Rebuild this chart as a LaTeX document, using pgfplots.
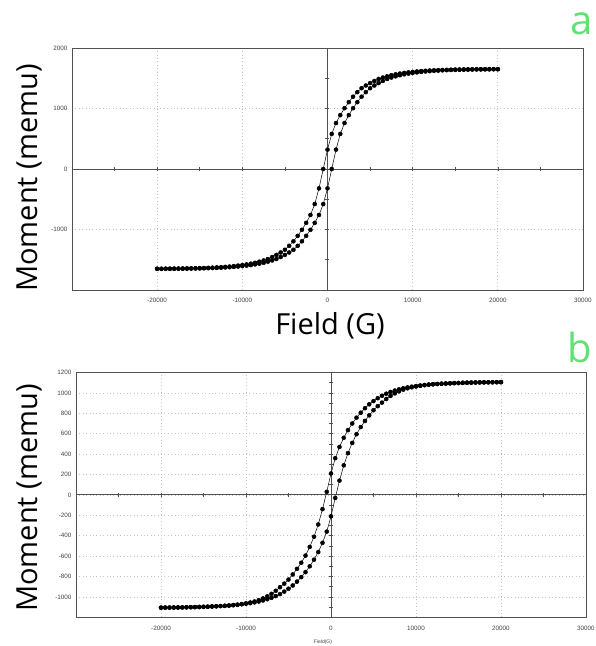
\documentclass[border=0pt]{standalone}
\usepackage{fontspec}
\setmainfont{Open Sans}
\newfontfamily\tickfont{Liberation Sans}
\usepackage{pgfplots}
\pgfplotsset{compat=1.18}
\definecolor{framegray}{RGB}{80,80,80}
\definecolor{gridgray}{RGB}{195,195,195}
\definecolor{panelgreen}{RGB}{95,225,115}

\pgfplotsset{
  vsmframe/.style={
    scale only axis, axis lines=box,
    xmin=-30000, xmax=30000,
    scaled ticks=false,
    axis line style={framegray, line width=0.8pt},
    major tick length=0pt,
    grid=major,
    major grid style={gridgray, line width=0.7pt, dash pattern=on 0.8pt off 2.6pt},
    tick label style={font=\tickfont\fontsize{6.3}{7}\selectfont, text=black!75},
    xticklabel style={yshift=-5pt},
    yticklabel style={xshift=-1pt},
    /pgf/number format/1000 sep={},
    /pgf/number format/assume math mode=true,
  },
  vsmzero/.style={
    scale only axis, axis lines=middle,
    xmin=-30000, xmax=30000,
    scaled ticks=false,
    axis line style={framegray, line width=0.8pt, -},
    tick style={framegray, line width=0.6pt},
    tick align=center, major tick length=4pt,
    xtick distance=5000,
    xticklabels={}, yticklabels={},
  },
  vsmdata/.style={black, line width=0.5pt, mark=*, mark size=2pt, mark options={fill=black}},
}

\begin{document}
\begin{tikzpicture}
\path[use as bounding box] (0,0) rectangle (596pt,646pt);

% ---- panel a
\begin{axis}[vsmframe, at={(72pt,356pt)}, anchor=south west,
  width=511pt, height=242pt, ymin=-2000, ymax=2000,
  xtick={-20000,-10000,0,10000,20000,30000},
  ytick={-1000,0,1000,2000}]
\end{axis}
\begin{axis}[vsmzero, at={(72pt,356pt)}, anchor=south west,
  width=511pt, height=242pt, ymin=-2000, ymax=2000, ytick distance=500]
\addplot[vsmdata] coordinates {
(20000,1650) (19500,1650) (19000,1649) (18500,1649) (18000,1648) (17500,1648)
(17000,1647) (16500,1646) (16000,1645) (15500,1644) (15000,1643) (14500,1641)
(14000,1639) (13500,1637) (13000,1634) (12500,1631) (12000,1627) (11500,1623)
(11000,1618) (10500,1612) (10000,1605) (9500,1597) (9000,1588) (8500,1577)
(8000,1565) (7500,1550) (7000,1532) (6500,1512) (6000,1488) (5500,1455)
(5000,1420) (4500,1380) (4000,1335) (3500,1270) (3000,1195) (2500,1105)
(2000,1005) (1500,890) (1000,760) (500,580) (0,320) (-500,0)
(-1000,-320) (-1500,-580) (-2000,-760) (-2500,-890) (-3000,-1005) (-3500,-1105)
(-4000,-1195) (-4500,-1270) (-5000,-1335) (-5500,-1380) (-6000,-1420) (-6500,-1455)
(-7000,-1488) (-7500,-1512) (-8000,-1532) (-8500,-1550) (-9000,-1565) (-9500,-1577)
(-10000,-1588) (-10500,-1597) (-11000,-1605) (-11500,-1612) (-12000,-1618) (-12500,-1623)
(-13000,-1627) (-13500,-1631) (-14000,-1634) (-14500,-1637) (-15000,-1639) (-15500,-1641)
(-16000,-1643) (-16500,-1644) (-17000,-1645) (-17500,-1646) (-18000,-1647) (-18500,-1648)
(-19000,-1648) (-19500,-1649) (-20000,-1649)
(-20000,-1650) (-19500,-1650) (-19000,-1649) (-18500,-1649) (-18000,-1648) (-17500,-1648)
(-17000,-1647) (-16500,-1646) (-16000,-1645) (-15500,-1644) (-15000,-1643) (-14500,-1641)
(-14000,-1639) (-13500,-1637) (-13000,-1634) (-12500,-1631) (-12000,-1627) (-11500,-1623)
(-11000,-1618) (-10500,-1612) (-10000,-1605) (-9500,-1597) (-9000,-1588) (-8500,-1577)
(-8000,-1565) (-7500,-1550) (-7000,-1532) (-6500,-1512) (-6000,-1488) (-5500,-1455)
(-5000,-1420) (-4500,-1380) (-4000,-1335) (-3500,-1270) (-3000,-1195) (-2500,-1105)
(-2000,-1005) (-1500,-890) (-1000,-760) (-500,-580) (0,-320) (500,0)
(1000,320) (1500,580) (2000,760) (2500,890) (3000,1005) (3500,1105)
(4000,1195) (4500,1270) (5000,1335) (5500,1380) (6000,1420) (6500,1455)
(7000,1488) (7500,1512) (8000,1532) (8500,1550) (9000,1565) (9500,1577)
(10000,1588) (10500,1597) (11000,1605) (11500,1612) (12000,1618) (12500,1623)
(13000,1627) (13500,1631) (14000,1634) (14500,1637) (15000,1639) (15500,1641)
(16000,1643) (16500,1644) (17000,1645) (17500,1646) (18000,1647) (18500,1648)
(19000,1648) (19500,1649) (20000,1649)
};
\end{axis}

% ---- panel b
\begin{axis}[vsmframe, at={(76pt,28.7pt)}, anchor=south west,
  width=510pt, height=244.8pt, ymin=-1200, ymax=1200,
  xtick={-20000,-10000,0,10000,20000,30000},
  ytick={-1000,-800,-600,-400,-200,0,200,400,600,800,1000,1200}]
\end{axis}
\begin{axis}[vsmzero, at={(76pt,28.7pt)}, anchor=south west,
  width=510pt, height=244.8pt, ymin=-1200, ymax=1200, ytick distance=100]
\addplot[vsmdata] coordinates {
(20000,1106) (19500,1105) (19000,1105) (18500,1104) (18000,1104) (17500,1103)
(17000,1102) (16500,1101) (16000,1100) (15500,1099) (15000,1097) (14500,1096)
(14000,1094) (13500,1092) (13000,1090) (12500,1087) (12000,1084) (11500,1081)
(11000,1077) (10500,1072) (10000,1067) (9500,1061) (9000,1054) (8500,1045)
(8000,1035) (7500,1023) (7000,1009) (6500,992) (6000,972) (5500,948)
(5000,920) (4500,888) (4000,850) (3500,806) (3000,757) (2500,700)
(2000,635) (1500,560) (1000,470) (500,360) (0,210) (-500,30)
(-1000,-140) (-1500,-290) (-2000,-410) (-2500,-510) (-3000,-595) (-3500,-665)
(-4000,-725) (-4500,-780) (-5000,-830) (-5500,-870) (-6000,-905) (-6500,-940)
(-7000,-970) (-7500,-995) (-8000,-1015) (-8500,-1032) (-9000,-1045) (-9500,-1055)
(-10000,-1063) (-10500,-1070) (-11000,-1076) (-11500,-1081) (-12000,-1085) (-12500,-1088)
(-13000,-1090) (-13500,-1092) (-14000,-1094) (-14500,-1096) (-15000,-1097) (-15500,-1099)
(-16000,-1100) (-16500,-1101) (-17000,-1102) (-17500,-1103) (-18000,-1103) (-18500,-1104)
(-19000,-1104) (-19500,-1105) (-20000,-1105)
(-20000,-1106) (-19500,-1105) (-19000,-1105) (-18500,-1104) (-18000,-1104) (-17500,-1103)
(-17000,-1102) (-16500,-1101) (-16000,-1100) (-15500,-1099) (-15000,-1097) (-14500,-1096)
(-14000,-1094) (-13500,-1092) (-13000,-1090) (-12500,-1087) (-12000,-1084) (-11500,-1081)
(-11000,-1077) (-10500,-1072) (-10000,-1067) (-9500,-1061) (-9000,-1054) (-8500,-1045)
(-8000,-1035) (-7500,-1023) (-7000,-1009) (-6500,-992) (-6000,-972) (-5500,-948)
(-5000,-920) (-4500,-888) (-4000,-850) (-3500,-806) (-3000,-757) (-2500,-700)
(-2000,-635) (-1500,-560) (-1000,-470) (-500,-360) (0,-210) (500,-30)
(1000,140) (1500,290) (2000,410) (2500,510) (3000,595) (3500,665)
(4000,725) (4500,780) (5000,830) (5500,870) (6000,905) (6500,940)
(7000,970) (7500,995) (8000,1015) (8500,1032) (9000,1045) (9500,1055)
(10000,1063) (10500,1070) (11000,1076) (11500,1081) (12000,1085) (12500,1088)
(13000,1090) (13500,1092) (14000,1094) (14500,1096) (15000,1097) (15500,1099)
(16000,1100) (16500,1101) (17000,1102) (17500,1103) (18000,1103) (18500,1104)
(19000,1104) (19500,1105) (20000,1105)
};
\end{axis}

% ---- labels
\node[rotate=90, font=\fontsize{29}{34}\selectfont] at (29pt,468pt) {Moment (memu)};
\node[rotate=90, font=\fontsize{29}{34}\selectfont] at (29pt,148pt) {Moment (memu)};
\node[font=\fontsize{29}{34}\selectfont] at (330pt,320pt) {Field (G)};
\node[font=\tickfont\fontsize{5}{6}\selectfont, text=black!75] at (323pt,4pt) {Field(G)};
\node[font=\fontsize{40}{44}\selectfont, text=panelgreen] at (582pt,622pt) {a};
\node[font=\fontsize{40}{44}\selectfont, text=panelgreen] at (580pt,298pt) {b};
\end{tikzpicture}
\end{document}
